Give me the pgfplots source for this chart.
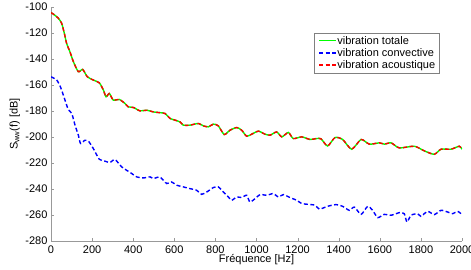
\documentclass[border=0pt]{standalone}
\usepackage{pgfplots}
\pgfplotsset{compat=1.18}
\usepackage{fontspec}
\setmainfont{Liberation Sans}
\setsansfont{Liberation Sans}
\newcommand{\legline}[1]{\tikz[baseline=-0.35em]\draw[#1] (0bp,0bp) -- (17bp,0bp);\hspace{0.5bp}}
\pgfplotstableread{
x y
0 -104.4
11 -105.4
36 -108.7
52 -112.6
65 -120.3
76 -128
92 -134.4
109 -142.1
133 -149.8
154 -148
177 -153.7
206 -156.2
235 -158.3
255 -163.9
268 -169.1
284 -166.5
303 -171.6
332 -171.1
360 -174.2
376 -176.8
401 -177.3
433 -179.9
466 -179.4
498 -180.7
530 -181.3
555 -181.9
579 -185.7
603 -187
628 -188.4
644 -190.9
676 -190.9
717 -189.6
741 -191.4
766 -192.2
790 -190.1
814 -191.4
843 -198.1
871 -194.8
904 -192.7
928 -194.8
952 -199.4
977 -197.8
1009 -195.5
1041 -197.8
1066 -198.6
1098 -196.1
1123 -199.9
1155 -196.5
1179 -201.2
1220 -199.9
1260 -201.9
1293 -201.2
1314 -201.4
1346 -206.9
1382 -200.4
1419 -201.9
1463 -209.4
1509 -201.9
1549 -205.5
1598 -204.5
1622 -205.5
1655 -204.5
1695 -208.4
1768 -207.1
1817 -210.7
1865 -213.3
1898 -209.4
1946 -209.4
1987 -207.1
2000 -209.4
}\totale
\pgfplotstableread{
x y
0 -104.4
11 -105.4
36 -108.7
52 -112.6
65 -120.3
76 -128
92 -134.4
109 -142.1
133 -149.8
154 -148
177 -153.7
206 -156.2
235 -158.3
255 -163.9
268 -169.1
284 -166.5
303 -171.6
332 -171.1
360 -174.2
376 -176.8
401 -177.3
433 -179.9
466 -179.4
498 -180.7
530 -181.3
555 -181.9
579 -185.7
603 -187
628 -188.4
644 -190.9
676 -190.9
717 -189.6
741 -191.4
766 -192.2
790 -190.1
814 -191.4
843 -198.1
871 -194.8
904 -192.7
928 -194.8
952 -199.4
977 -197.8
1009 -195.5
1041 -197.8
1066 -198.6
1098 -196.1
1123 -199.9
1155 -196.5
1179 -201.2
1220 -199.9
1260 -201.9
1293 -201.2
1314 -201.4
1346 -206.9
1382 -200.4
1419 -201.9
1463 -209.4
1509 -201.9
1549 -205.5
1598 -204.5
1622 -205.5
1655 -204.5
1695 -208.4
1768 -207.1
1817 -210.7
1865 -213.3
1898 -209.4
1946 -209.4
1987 -207.1
2000 -209.4
}\acoustique
\pgfplotstableread{
x y
0 -153.7
28 -156.2
47 -161.9
68 -171.6
84 -178.8
101 -181.9
117 -190.9
133 -198.6
144 -205
165 -202.5
182 -203.2
206 -208.9
235 -217.1
263 -218.6
287 -219.6
311 -217.3
344 -223
368 -225.6
393 -228.1
417 -230.7
449 -231.5
482 -230.7
498 -232
530 -230.8
563 -235.8
587 -234.6
612 -237.1
644 -238.4
676 -239.7
709 -241
733 -244.1
758 -242.3
790 -238.9
814 -238.4
839 -242.3
863 -246.1
879 -248.7
904 -246.1
928 -246.6
952 -244.8
968 -250
993 -247.4
1017 -244.3
1050 -244.8
1082 -243.5
1106 -246.1
1131 -244.3
1163 -246.6
1196 -248.7
1220 -251.2
1252 -251.8
1285 -252.5
1306 -255.5
1346 -253.3
1387 -252
1419 -253.3
1452 -256.4
1476 -253.9
1509 -259.5
1541 -253.3
1565 -256.4
1590 -262
1622 -259.5
1655 -260.2
1695 -258.2
1719 -259
1732 -265.4
1752 -260.2
1784 -259
1800 -261
1833 -257.2
1865 -259.7
1898 -256.4
1930 -257.7
1955 -259
1979 -257.2
2000 -259.7
}\convective
\begin{document}
\begin{tikzpicture}
\begin{axis}[
  scale only axis,
  width=411bp, height=234bp,
  xmin=0, xmax=2000, ymin=-280, ymax=-100,
  xtick={0,200,...,2000},
  ytick={-280,-260,...,-100},
  axis x line*=bottom, axis y line*=left,
  axis line style={draw=black!40, line width=0.6bp},
  tick style={draw=black!40},
  tick align=inside,
  major tick length=3bp,
  font=\fontsize{11bp}{13bp}\selectfont,
  /pgf/number format/assume math mode=true,
  /pgf/number format/1000 sep={},
  scaled ticks=false,
  xticklabel style={yshift=-1bp},
  xlabel={Fréquence [Hz]},
  ylabel={S$_{\mathrm{ww}}$(f) [dB]},
  every axis x label/.style={at={(rel axis cs:0.5,-0.081)}, anchor=center},
  every axis y label/.style={at={(rel axis cs:-0.088,0.5)}, rotate=90, anchor=center},
  legend style={at={(rel axis cs:0.6406,0.8876)}, anchor=north west,
    draw=black!50, font=\fontsize{11bp}{13bp}\selectfont,
    inner xsep=2bp, inner ysep=1bp, row sep=-1.2bp, column sep=0bp},
  legend image code/.code={},
  legend cell align=left,
]
\addplot[draw=green, line width=1.4bp, smooth, tension=0.4] table {\totale};
\addlegendentry{\legline{green, line width=1.4bp}vibration totale}
\addplot[draw=blue, line width=1.4bp, dash pattern=on 4bp off 2.5bp, smooth, tension=0.4] table {\convective};
\addlegendentry{\legline{blue, line width=1.4bp, dash pattern=on 4bp off 2.5bp}vibration convective}
\addplot[draw=red, line width=1.4bp, dash pattern=on 4bp off 2.5bp, smooth, tension=0.4] table {\acoustique};
\addlegendentry{\legline{red, line width=1.4bp, dash pattern=on 4bp off 2.5bp}vibration acoustique}
\coordinate (bl) at (rel axis cs:-0.1241,-0.1197);
\coordinate (tr) at (rel axis cs:1.0219,1.0299);
\end{axis}
\pgfresetboundingbox
\useasboundingbox (bl) rectangle (tr);
\end{tikzpicture}
\end{document}
